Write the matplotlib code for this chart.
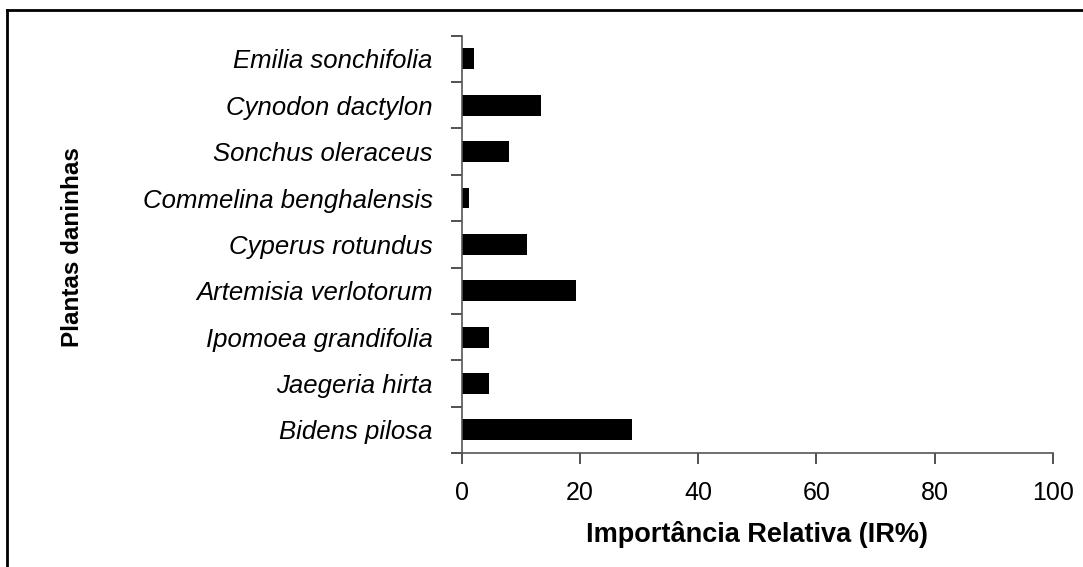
import matplotlib
matplotlib.use("Agg")
import matplotlib.pyplot as plt
from matplotlib.lines import Line2D

# Species (bottom to top) and relative importance values
species = [
    "Bidens pilosa",
    "Jaegeria hirta",
    "Ipomoea grandifolia",
    "Artemisia verlotorum",
    "Cyperus rotundus",
    "Commelina benghalensis",
    "Sonchus oleraceus",
    "Cynodon dactylon",
    "Emilia sonchifolia",
]
ir_values = [28.8, 4.7, 4.7, 19.4, 11.1, 1.3, 8.0, 13.4, 2.0]
x_ticks = [0, 20, 40, 60, 80, 100]

plt.rcParams["font.family"] = ["Liberation Sans", "DejaVu Sans"]

fig = plt.figure(figsize=(10.83, 5.67), dpi=100)
ax = fig.add_axes([0.4263, 0.201, 0.546, 0.736])

pos = list(range(len(species)))
ax.barh(pos, ir_values, height=0.45, color="black")

ax.set_xlim(0, 100)
ax.set_ylim(-0.5, len(species) - 0.5)
ax.set_xticks(x_ticks)
ax.set_xticklabels([str(t) for t in x_ticks], fontsize=18)

# category labels in the middle, ticks at boundaries
ax.set_yticks(pos)
ax.set_yticklabels(species, fontsize=18.5, style="italic")
ax.set_yticks([p - 0.5 for p in pos] + [len(species) - 0.5], minor=True)
ax.tick_params(axis="y", which="major", length=0, pad=21)
ax.tick_params(axis="y", which="minor", length=8, width=1.2, color="#333333")
ax.tick_params(axis="x", length=8, width=1.2, color="#333333", pad=12)

for side in ["top", "right"]:
    ax.spines[side].set_visible(False)
for side in ["left", "bottom"]:
    ax.spines[side].set_color("#555555")
    ax.spines[side].set_linewidth(1.2)

ax.set_xlabel("Importância Relativa (IR%)", fontsize=19.5, fontweight="bold", labelpad=12)
fig.text(0.067, 0.5635, "Plantas daninhas", rotation=90, fontsize=17.5,
         fontweight="bold", ha="center", va="center")

# outer frame (left and top edges visible)
fig.add_artist(Line2D([0.0065, 0.0065], [0.0, 0.982], color="black", lw=2,
                      transform=fig.transFigure))
fig.add_artist(Line2D([0.0065, 1.0], [0.982, 0.982], color="black", lw=2,
                      transform=fig.transFigure))

fig.savefig("out.png", dpi=100)
